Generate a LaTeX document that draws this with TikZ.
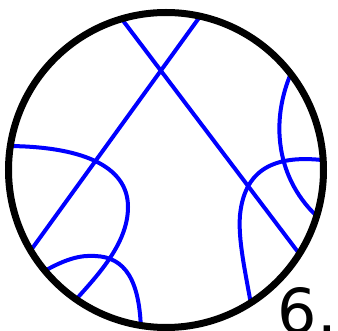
\documentclass[tikz,border=0pt]{standalone}
\usepackage{fontspec}
\newfontfamily\labelfont{DejaVu Sans}
\begin{document}
\begin{tikzpicture}[x=1pt,y=-1pt,
  wire/.style={draw={rgb,255:red,0;green,0;blue,255}, line width=4pt},
  rim/.style={draw=black, line width=7pt}]
\useasboundingbox (0,0) rectangle (338,331);
\coordinate (c) at (166,170);
% straight lines
\coordinate (l1a) at (118,14);
\coordinate (l1b) at (304,260);
\coordinate (l2a) at (204,11);
\coordinate (l2b) at (26,257);
% curve A
\coordinate (a0) at (5,146);
\coordinate (a1) at (128,207);
\coordinate (a2) at (72,304);
% curve B
\coordinate (b0) at (41,273);
\coordinate (b1) at (95,256);
\coordinate (b2) at (141,332);
% curve C
\coordinate (c0) at (292,71);
\coordinate (c1) at (321,220);
% curve D
\coordinate (d0) at (330,161);
\coordinate (d1) at (240,215);
\coordinate (d2) at (252,310);
\begin{scope}
  \clip (c) circle[radius=157.5];
  \draw[wire] (l1a) -- (l1b);
  \draw[wire] (l2a) -- (l2b);
  \draw[wire] (a0) .. controls (80,146) and (128,165) .. (a1)
                   .. controls (128,245) and (95,278) .. (a2);
  \draw[wire] (b0) .. controls (65,259) and (80,255) .. (b1)
                   .. controls (125,257) and (140,280) .. (b2);
  \draw[wire] (c0) .. controls (270,120) and (275,180) .. (c1);
  \draw[wire] (d0) .. controls (280,154) and (245,165) .. (d1)
                   .. controls (238,240) and (245,270) .. (d2);
\end{scope}
\draw[rim] (c) circle[radius=157.5];
\node[anchor=base west, inner sep=0pt, font=\labelfont\fontsize{62}{62}\selectfont] (lbl) at (277.5,334) {6.};
\end{tikzpicture}
\end{document}
